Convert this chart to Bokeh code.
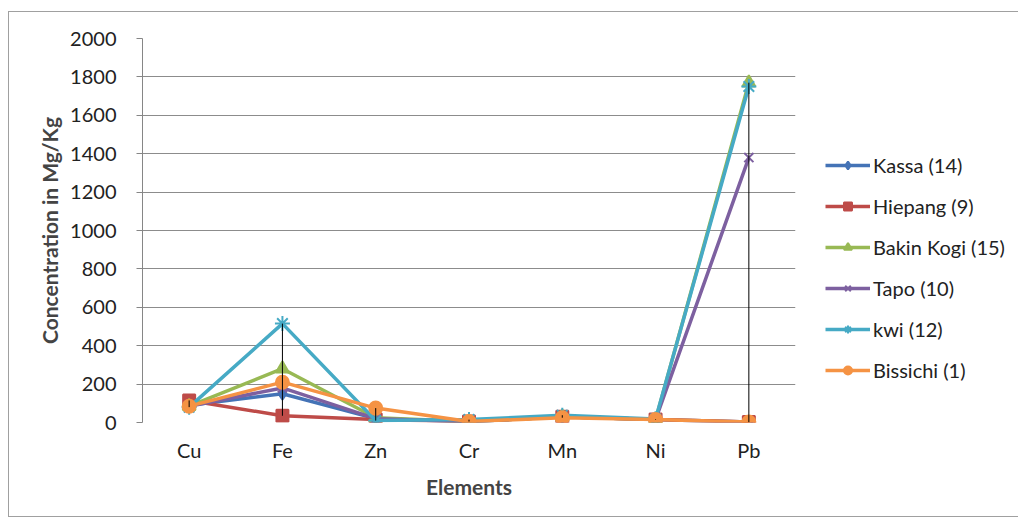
from bokeh.plotting import figure
from bokeh.models import Legend, LegendItem, FixedTicker, ColumnDataSource
from bokeh.embed import file_html
from bokeh.resources import INLINE

elements = ["Cu", "Fe", "Zn", "Cr", "Mn", "Ni", "Pb"]
kassa = [90, 150, 20, 5, 30, 15, 2]
hiepang = [115, 35, 15, 5, 30, 15, 2]
bakin_kogi = [85, 280, 25, 5, 30, 15, 1770]
tapo = [85, 180, 20, 5, 30, 15, 1380]
kwi = [80, 515, 10, 15, 38, 18, 1750]
bissichi = [85, 210, 75, 5, 25, 15, 2]
y_ticks = [0, 200, 400, 600, 800, 1000, 1200, 1400, 1600, 1800, 2000]

series = [
    ("Kassa (14)", kassa, "#4473B6", "diamond", 12),
    ("Hiepang (9)", hiepang, "#BE4B48", "square", 12),
    ("Bakin Kogi (15)", bakin_kogi, "#98B954", "triangle", 13),
    ("Tapo (10)", tapo, "#7D60A0", "x", 13),
    ("kwi (12)", kwi, "#46AAC5", "asterisk", 15),
    ("Bissichi (1)", bissichi, "#F59344", "circle", 13),
]

FONT = "Lato"
p = figure(x_range=elements, y_range=(0, 2000), width=1000, height=504,
           output_backend="svg", toolbar_location=None,
           frame_width=653, frame_height=384,
           min_border_left=133, min_border_right=214, min_border_top=26, min_border_bottom=94)
p.styles = {"border": "1px solid #a0a0a0", "margin-left": "8px", "margin-top": "11px"}
p.outline_line_color = None
p.background_fill_color = "white"
p.border_fill_color = "white"

p.xgrid.grid_line_color = None
p.ygrid.grid_line_color = "#8c8c8c"
p.ygrid.grid_line_width = 1
p.yaxis.ticker = FixedTicker(ticks=y_ticks)
p.yaxis.axis_line_color = "#868686"
p.yaxis.major_tick_line_color = "#868686"
p.yaxis.major_tick_out = 6
p.yaxis.major_tick_in = 0
p.yaxis.minor_tick_line_color = None
p.yaxis.major_label_standoff = 20
p.yaxis.major_label_text_font = FONT
p.yaxis.major_label_text_font_size = "20px"
p.yaxis.major_label_text_color = "#222222"
p.yaxis.axis_label = "Concentration in Mg/Kg"
p.yaxis.axis_label_text_font = FONT
p.yaxis.axis_label_text_font_style = "bold"
p.yaxis.axis_label_text_font_size = "21px"
p.yaxis.axis_label_standoff = 5

p.xaxis.axis_line_color = None
p.xaxis.major_tick_line_color = None
p.xaxis.minor_tick_line_color = None
p.xaxis.major_label_standoff = 9
p.xaxis.major_label_text_font = FONT
p.xaxis.major_label_text_font_size = "20px"
p.xaxis.major_label_text_color = "#222222"
p.xaxis.axis_label = "Elements"
p.xaxis.axis_label_text_font = FONT
p.xaxis.axis_label_text_font_style = "bold"
p.xaxis.axis_label_text_font_size = "21px"
p.xaxis.axis_label_standoff = 9

items = []
for name, vals, color, marker, size in series:
    src = ColumnDataSource(dict(x=elements, y=vals))
    ln = p.line("x", "y", source=src, line_color=color, line_width=3.5)
    sc = p.scatter("x", "y", source=src, marker=marker, size=size,
                   fill_color=color, line_color=color, line_width=2)
    items.append(LegendItem(label=name, renderers=[ln, sc]))

# high-low lines
all_series = [s[1] for s in series]
lows = [min(col) for col in zip(*all_series)]
highs = [max(col) for col in zip(*all_series)]
p.segment(x0=elements, y0=lows, x1=elements, y1=highs, line_color="black", line_width=1)

legend = Legend(items=items, location=(30, 40))
legend.border_line_color = None
legend.background_fill_alpha = 0
legend.label_text_font = FONT
legend.label_text_font_size = "20px"
legend.label_text_color = "#222222"
legend.glyph_width = 45
legend.glyph_height = 20
legend.label_height = 20
legend.spacing = 17
legend.label_standoff = 3
legend.padding = 0
legend.margin = 0
p.add_layout(legend, "right")

open("out.html", "w").write(file_html(p, INLINE))
